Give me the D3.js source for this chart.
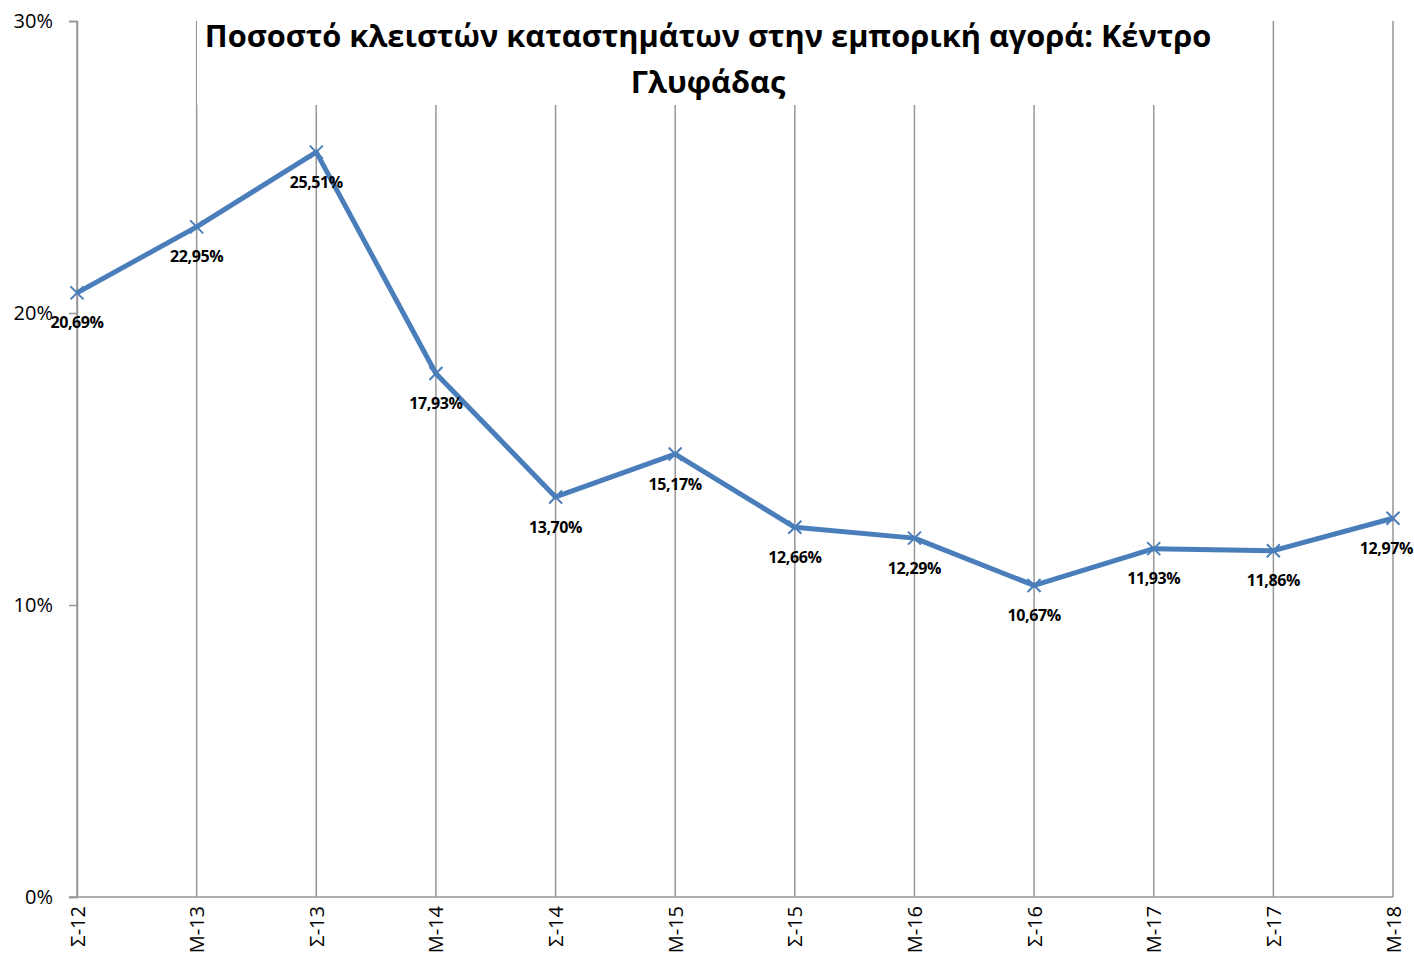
<!DOCTYPE html>
<html>
<head>
<meta charset="utf-8">
<script src="https://cdn.jsdelivr.net/npm/d3@7"></script>
<style>
  body { margin: 0; background: #fff; }
  text { font-family: "Open Sans", "Noto Sans", sans-serif; }
</style>
</head>
<body>
<div id="chart"></div>
<script>
// Chart data
const categories = ["Σ-12", "Μ-13", "Σ-13", "Μ-14", "Σ-14", "Μ-15", "Σ-15", "Μ-16", "Σ-16", "Μ-17", "Σ-17", "Μ-18"];
const values = [20.69, 22.95, 25.51, 17.93, 13.70, 15.17, 12.66, 12.29, 10.67, 11.93, 11.86, 12.97];
const yTicks = [0, 10, 20, 30];
const titleLines = ["Ποσοστό κλειστών καταστημάτων στην εμπορική αγορά: Κέντρο", "Γλυφάδας"];

const width = 1414;
const height = 964;
const margin = { top: 21, right: 21, bottom: 67, left: 77 };

const svg = d3
  .select("#chart")
  .append("svg")
  .attr("width", width)
  .attr("height", height);

const x = d3
  .scalePoint()
  .domain(categories)
  .range([margin.left, width - margin.right])
  .padding(0);

const y = d3
  .scaleLinear()
  .domain([0, 30])
  .range([height - margin.bottom, margin.top]);

// Vertical gridlines
svg
  .append("g")
  .selectAll("line")
  .data(categories)
  .enter()
  .append("line")
  .attr("x1", (d) => x(d))
  .attr("x2", (d) => x(d))
  .attr("y1", y(30))
  .attr("y2", y(0))
  .attr("stroke", "#969696")
  .attr("stroke-width", 1.5);

// Title background covering gridlines
svg
  .append("rect")
  .attr("x", 197)
  .attr("y", 18)
  .attr("width", 1022)
  .attr("height", 87)
  .attr("fill", "#fff");

// Y axis
const yAxis = svg
  .append("g")
  .attr("transform", `translate(${margin.left},0)`)
  .call(
    d3.axisLeft(y)
      .tickValues(yTicks)
      .tickFormat((d) => d + "%")
      .tickSize(8)
      .tickPadding(16)
  );
yAxis.select(".domain").attr("stroke", "#969696").attr("stroke-width", 1.5);
yAxis.selectAll(".tick line").attr("stroke", "#969696").attr("stroke-width", 1.5);
yAxis
  .selectAll(".tick text")
  .attr("font-size", 20)
  .attr("fill", "#000")
  .style("font-family", '"Open Sans", sans-serif');

// X axis
const xAxis = svg
  .append("g")
  .attr("transform", `translate(0,${y(0)})`)
  .call(d3.axisBottom(x).tickSize(0).tickPadding(0));
xAxis
  .select(".domain")
  .attr("stroke", "#969696")
  .attr("stroke-width", 1.5)
  .attr("d", `M${margin.left - 8},0H${width - margin.right}`);
xAxis
  .selectAll(".tick text")
  .attr("font-size", 20)
  .attr("fill", "#000")
  .attr("text-anchor", "end")
  .attr("transform", "rotate(-90)")
  .attr("x", -9)
  .attr("y", 0)
  .attr("dy", "0.35em")
  .style("font-family", '"Open Sans", sans-serif');

// Line
const line = d3
  .line()
  .x((d, i) => x(categories[i]))
  .y((d) => y(d));

svg
  .append("path")
  .datum(values)
  .attr("d", line)
  .attr("fill", "none")
  .attr("stroke", "#4a7ebb")
  .attr("stroke-width", 5)
  .attr("stroke-linejoin", "round");

// X markers
svg
  .append("g")
  .selectAll("path")
  .data(values)
  .enter()
  .append("path")
  .attr("d", (d, i) => {
    const cx = x(categories[i]);
    const cy = y(d);
    const s = 6.5;
    return `M${cx - s},${cy - s}L${cx + s},${cy + s}M${cx - s},${cy + s}L${cx + s},${cy - s}`;
  })
  .attr("stroke", "#4a7ebb")
  .attr("stroke-width", 2)
  .attr("fill", "none");

// Data labels
const labels = svg
  .append("g")
  .selectAll("text")
  .data(values)
  .enter()
  .append("text")
  .attr("x", (d, i) => x(categories[i]))
  .attr("y", (d) => y(d) + 30)
  .attr("dy", "0.35em")
  .attr("text-anchor", "middle")
  .attr("font-size", 16)
  .attr("font-weight", "bold")
  .attr("letter-spacing", -0.4)
  .attr("fill", "#000")
  .text((d) => d.toFixed(2).replace(".", ",") + "%");

// Keep labels inside the picture
labels.each(function () {
  const w = this.getComputedTextLength();
  const cx = +d3.select(this).attr("x");
  if (cx + w / 2 > width - 1) d3.select(this).attr("x", width - 1 - w / 2);
});

// Title
const title = svg
  .append("g")
  .selectAll("text")
  .data(titleLines)
  .enter()
  .append("text")
  .attr("x", 708)
  .attr("y", (d, i) => 47 + i * 46)
  .attr("text-anchor", "middle")
  .attr("font-size", 30)
  .attr("font-weight", "bold")
  .attr("fill", "#000")
  .text((d) => d);

// Fit first title line to its width in the reference
const firstLen = title.nodes()[0].getComputedTextLength();
title.attr("font-size", 30 * 1007 / firstLen);
</script>
</body>
</html>
